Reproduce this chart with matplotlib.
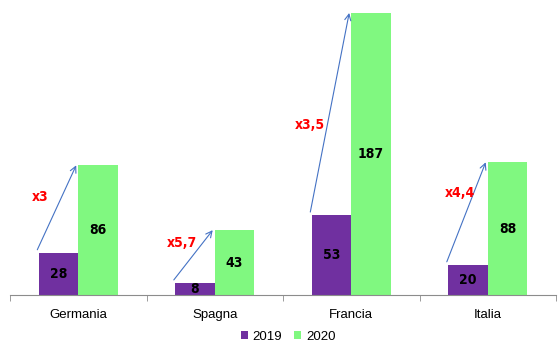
import matplotlib.pyplot as plt
import numpy as np
from matplotlib import font_manager

plt.rcParams['font.family'] = ['Liberation Sans', 'DejaVu Sans']

paesi = ['Germania', 'Spagna', 'Francia', 'Italia']
val_2019 = [28, 8, 53, 20]
val_2020 = [86, 43, 187, 88]
crescita = ['x3', 'x5,7', 'x3,5', 'x4,4']

# where the growth labels sit (x offset from category centre, y in data units)
lab_dx = [-0.28, -0.24, -0.30, -0.205]
lab_y = [65, 34.5, 113, 67.5]

c2019 = '#7030a0'
c2020 = '#80f880'
grigio = '#8c8c8c'

# condensed bold face for the numbers on the bars
nomi = {f.name for f in font_manager.fontManager.ttflist}
narrow = 'Liberation Sans Narrow' if 'Liberation Sans Narrow' in nomi else 'DejaVu Sans'
stile = dict(fontweight='bold', family=narrow, fontstretch='condensed')

fig = plt.figure(figsize=(5.58, 3.43), dpi=100)
ax = fig.add_axes([10 / 558, 48 / 343, 546 / 558, 295 / 343])

x = np.arange(len(paesi))
w = 0.29
b1 = ax.bar(x - w / 2, val_2019, w, color=c2019, label='2019')
b2 = ax.bar(x + w / 2, val_2020, w, color=c2020, label='2020')

for bars in (b1, b2):
    for r in bars:
        h = r.get_height()
        ax.text(r.get_x() + r.get_width() / 2, h / 2, f'{h:g}',
                ha='center', va='center', fontsize=10, **stile)

# arrows from the 2019 bar to the 2020 bar
for i in range(len(paesi)):
    ax.annotate('', xy=(x[i] - 0.015, val_2020[i]),
                xytext=(x[i] - w - 0.01, val_2019[i] + 2),
                arrowprops=dict(arrowstyle='->', color='#4472c4', lw=0.8,
                                shrinkA=0, shrinkB=0, mutation_scale=11))
    ax.text(x[i] + lab_dx[i], lab_y[i], crescita[i], color='#ff0000',
            fontsize=10, ha='center', va='center', **stile)

ax.set_xlim(-0.5, 3.5)
ax.set_ylim(0, 195.6)
ax.set_xticks(x)
ax.set_xticklabels(paesi, fontsize=9.5)
ax.tick_params(axis='x', which='major', length=0, pad=10)
ax.set_xticks(np.arange(-0.5, 4, 1), minor=True)
ax.tick_params(axis='x', which='minor', length=4, color=grigio, direction='out')
ax.set_yticks([])
for s in ['top', 'right', 'left']:
    ax.spines[s].set_visible(False)
ax.spines['bottom'].set_color(grigio)

fig.legend(handles=[b1, b2], labels=['2019', '2020'], loc='center',
           bbox_to_anchor=(288 / 558, 1 - 337 / 343), ncol=2, frameon=False,
           fontsize=9.5, handlelength=0.55, handleheight=0.55,
           handletextpad=0.35, columnspacing=0.9)

fig.savefig('out.png', dpi=100)
